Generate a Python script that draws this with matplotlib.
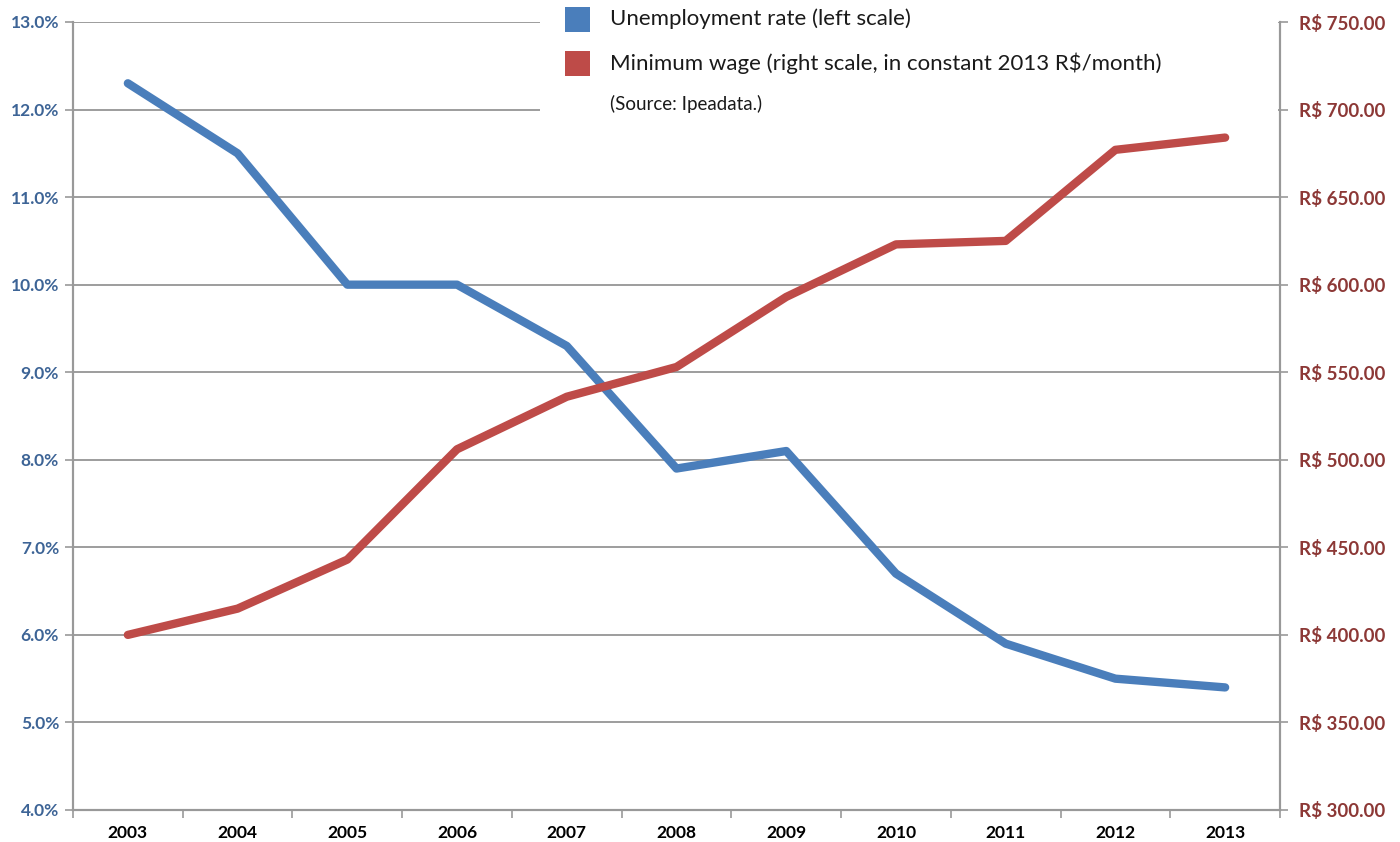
import matplotlib
matplotlib.use("Agg")
import matplotlib.pyplot as plt
from matplotlib.patches import Rectangle
import numpy as np

years = ["2003", "2004", "2005", "2006", "2007", "2008", "2009", "2010", "2011", "2012", "2013"]
unemployment = [12.3, 11.5, 10.0, 10.0, 9.3, 7.9, 8.1, 6.7, 5.9, 5.5, 5.4]
min_wage = [400, 415, 443, 506, 536, 553, 593, 623, 625, 677, 684]
left_ticks = [4, 5, 6, 7, 8, 9, 10, 11, 12, 13]
right_ticks = [300, 350, 400, 450, 500, 550, 600, 650, 700, 750]

BLUE = "#4a7ebb"
RED = "#be4b48"
BLUE_TXT = "#3d6496"
RED_TXT = "#8c3836"
GRID = "#8c8c8c"
SPINE = "#999999"

plt.rcParams['font.family'] = ['Lato', 'DejaVu Sans']

fig = plt.figure(figsize=(14, 8.42), dpi=100)
ax = fig.add_axes([73/1400, 1-810/842, (1280-73)/1400, (810-22)/842])
ax2 = ax.twinx()

x = np.arange(len(years))
ax.set_xlim(-0.5, len(years)-0.5)
ax.set_ylim(4, 13)
ax2.set_ylim(300, 750)

ax.set_yticks(left_ticks)
ax.set_yticklabels([f"{v:.1f}%" for v in left_ticks], color=BLUE_TXT, fontsize=12.5, fontweight='bold')
ax2.set_yticks(right_ticks)
ax2.set_yticklabels([f"R$ {v:.2f}" for v in right_ticks], color=RED_TXT, fontsize=13.5, fontweight='bold')

ax.set_xticks(x)
ax.set_xticklabels(years, fontsize=12.5, fontweight='bold', color='black')
ax.set_xticks(np.arange(len(years)+1) - 0.5, minor=True)
ax.tick_params(axis='x', which='major', length=0, pad=11)
ax.tick_params(axis='x', which='minor', length=6, color=SPINE, width=1.2)
ax.tick_params(axis='y', length=6, color=SPINE, width=1.2, pad=4)
ax2.tick_params(axis='y', length=6, color=SPINE, width=1.2, pad=8)

ax.yaxis.grid(True, color=GRID, linewidth=1.2)
ax.set_axisbelow(True)
for sp in ['top']:
    ax.spines[sp].set_visible(False)
    ax2.spines[sp].set_visible(False)
for a in (ax, ax2):
    for sp in ['left', 'right', 'bottom']:
        a.spines[sp].set_color(SPINE)
        a.spines[sp].set_linewidth(1.5)

# white box behind legend hiding gridlines
ax.add_patch(Rectangle((540/1400, 1-120/842), (1278-540)/1400, 122/842,
                       transform=fig.transFigure, facecolor='white', edgecolor='none', zorder=1.5))

ax.plot(x, unemployment, color=BLUE, linewidth=6, solid_capstyle='round', zorder=3)
ax2.plot(x, min_wage, color=RED, linewidth=6, solid_capstyle='round', zorder=3)

# legend
def fy(py):
    return 1 - py/842
fig.patches.append(Rectangle((565/1400, fy(32)), 25/1400, 25/842, transform=fig.transFigure,
                             facecolor=BLUE, edgecolor='none'))
fig.patches.append(Rectangle((565/1400, fy(76)), 25/1400, 25/842, transform=fig.transFigure,
                             facecolor=RED, edgecolor='none'))
fig.text(610/1400, fy(19), "Unemployment rate (left scale)", fontsize=16, va='center', ha='left', color='#1a1a1a')
fig.text(610/1400, fy(63), "Minimum wage (right scale, in constant 2013 R$/month)", fontsize=16, va='center', ha='left', color='#1a1a1a')
fig.text(610/1400, fy(104), "(Source: Ipeadata.)", fontsize=13.5, va='center', ha='left', color='#1a1a1a')

fig.savefig("out.png", dpi=100)
